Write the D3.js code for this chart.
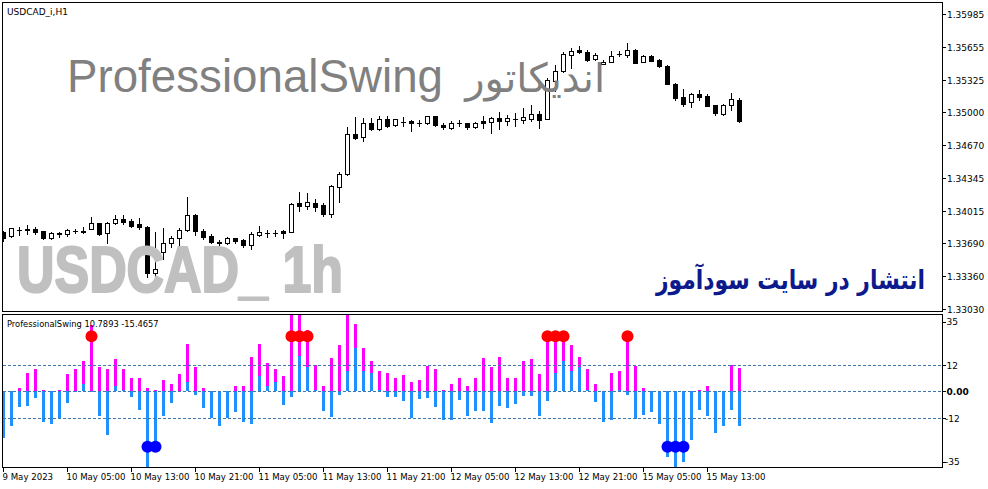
<!DOCTYPE html>
<html><head><meta charset="utf-8">
<script src="https://cdn.jsdelivr.net/npm/d3@7/dist/d3.min.js"></script>
<style>body{margin:0;background:#fff}svg{display:block}</style>
</head><body>
<svg id="c" width="988" height="489"></svg>
<script>
// ---------------- DATA ----------------
const symbolTitle = "USDCAD_i,H1";
const indicatorTitle = "ProfessionalSwing 10.7893 -15.4657";

const open = [
1.33803,1.33760,1.33820,1.33827,1.33827,1.33807,1.33743,1.33787,1.33780,1.33810,
1.33813,1.33830,1.33888,1.33787,1.33894,1.33928,1.33911,1.33878,1.33854,1.33387,
1.33603,1.33693,1.33737,1.33820,1.33971,1.33813,1.33760,1.33697,1.33687,1.33737,
1.33720,1.33670,1.33773,1.33793,1.33795,1.33807,1.33803,1.34088,1.34064,1.34088,
1.34068,1.33984,1.34254,1.34379,1.34782,1.34749,1.34890,1.34829,1.34930,1.34873,
1.34903,1.34916,1.34893,1.34890,1.34963,1.34876,1.34839,1.34893,1.34890,1.34850,
1.34913,1.34906,1.34943,1.34918,1.34933,1.34926,1.34936,1.34983,1.34936,1.35316,
1.35411,1.35571,1.35627,1.35604,1.35537,1.35484,1.35504,1.35584,1.35571,1.35627,
1.35504,1.35561,1.35521,1.35461,1.35288,1.35150,1.35103,1.35183,1.35160,1.35070,
1.34986,1.35070,1.35126];
const high = [
1.33815,1.33845,1.33854,1.33871,1.33854,1.33813,1.33803,1.33803,1.33830,1.33830,
1.33854,1.33954,1.33894,1.33904,1.33971,1.33968,1.33928,1.33941,1.33861,1.33800,
1.33837,1.33760,1.33837,1.34154,1.33981,1.33830,1.33777,1.33720,1.33747,1.33740,
1.33727,1.33803,1.33861,1.33820,1.33820,1.33820,1.34088,1.34204,1.34194,1.34128,
1.34088,1.34271,1.34399,1.34856,1.34956,1.34940,1.34940,1.34966,1.34966,1.34935,
1.34956,1.34920,1.34923,1.34968,1.34968,1.34896,1.34916,1.34923,1.34896,1.34903,
1.34966,1.34950,1.35008,1.34973,1.34993,1.35043,1.35076,1.35016,1.35343,1.35477,
1.35604,1.35644,1.35661,1.35621,1.35594,1.35527,1.35611,1.35611,1.35694,1.35637,
1.35577,1.35577,1.35534,1.35477,1.35293,1.35233,1.35193,1.35226,1.35183,1.35076,
1.35083,1.35193,1.35143];
const low = [
1.33713,1.33753,1.33770,1.33777,1.33777,1.33733,1.33730,1.33750,1.33763,1.33787,
1.33793,1.33827,1.33773,1.33687,1.33878,1.33881,1.33848,1.33830,1.33350,1.33350,
1.33527,1.33653,1.33670,1.33813,1.33770,1.33727,1.33687,1.33670,1.33680,1.33687,
1.33647,1.33627,1.33760,1.33753,1.33763,1.33743,1.33800,1.34014,1.34034,1.34014,
1.33964,1.33948,1.34104,1.34371,1.34737,1.34715,1.34824,1.34824,1.34850,1.34868,
1.34865,1.34815,1.34865,1.34885,1.34865,1.34829,1.34832,1.34862,1.34829,1.34839,
1.34839,1.34795,1.34837,1.34873,1.34862,1.34898,1.34916,1.34842,1.34933,1.35210,
1.35406,1.35444,1.35594,1.35517,1.35521,1.35481,1.35501,1.35567,1.35554,1.35491,
1.35501,1.35511,1.35454,1.35280,1.35126,1.35066,1.35053,1.35126,1.35060,1.34970,
1.34976,1.35026,1.34906];
const close = [
1.33743,1.33837,1.33817,1.33824,1.33800,1.33743,1.33790,1.33780,1.33820,1.33807,
1.33800,1.33888,1.33780,1.33888,1.33928,1.33898,1.33861,1.33854,1.33387,1.33427,
1.33693,1.33737,1.33820,1.33971,1.33813,1.33753,1.33703,1.33690,1.33743,1.33713,
1.33670,1.33780,1.33797,1.33795,1.33793,1.33793,1.34078,1.34061,1.34101,1.34054,
1.33984,1.34261,1.34382,1.34782,1.34745,1.34890,1.34829,1.34930,1.34865,1.34930,
1.34900,1.34890,1.34890,1.34963,1.34870,1.34850,1.34890,1.34890,1.34850,1.34896,
1.34896,1.34940,1.34913,1.34943,1.34938,1.34953,1.34983,1.34926,1.35326,1.35411,
1.35584,1.35617,1.35601,1.35527,1.35577,1.35504,1.35567,1.35581,1.35627,1.35494,
1.35561,1.35517,1.35461,1.35283,1.35143,1.35086,1.35183,1.35153,1.35066,1.34993,
1.35070,1.35136,1.34910];

// indicator histogram: magenta (upper) and dodger blue (lower)
const upper = [
0,0,1.7,8.3,10.0,0.9,0,0.5,7.9,10.4,
13.6,29.9,10.9,10.4,14.5,10.4,6.3,6.3,1.8,0.9,
5.4,3.6,7.7,21.3,11.3,1.4,0,0,0,2.7,
2.7,15.4,21.3,12.8,10.4,6.8,37,37,28,11.8,
2.7,15.1,21.0,37,30.4,19.5,14.0,9.5,8.6,5.9,
7.3,4.1,5.4,11.6,10.4,0.5,3.6,6.3,2.7,5.9,
15.0,10.9,15.4,6.3,6.3,13.6,14.5,7.7,26,25.5,
25.5,21.0,15.4,10.4,3.2,0,8.2,9.5,26,11.6,
1.8,0,0,0,0,0,0,0.5,2.3,0,
0,12.2,10.7893];
const lower = [
-21.1,-15.7,-7.1,-6.6,-3.0,-13.9,-14.8,-12.5,-5.3,0,
3.2,0,-10.9,-19.5,2.7,0.5,-2.7,-8.2,-36,-26.5,
-10.9,-5.0,0.4,4.2,-1.4,-7.3,-11.8,-15.4,-11.8,-9.1,
-13.6,-14.5,6.9,2.3,4.2,-5.9,-2.6,16.0,10.9,0.8,
-8.9,-11.6,-1.7,9.1,19.6,9.1,8.2,0.8,-2.6,-2.3,
-4.4,-12.1,-3.5,-3.0,-7.1,-12.8,-12.8,-3.9,-11.2,-8.9,
-8.9,-14.4,-6.6,-7.6,-5.7,-2.1,-2.1,-11.2,-4.4,8.3,
13.6,9.5,10.9,0.8,-4.8,-13.9,-12.8,0.8,-1.7,-12.5,
-10.7,-9.4,-14.8,-29.8,-36,-32,-22.1,-8.5,-11.2,-18.9,
-15.7,-8.5,-15.4657];
const sellSignalBars = [11,36,37,38,68,69,70,78];   // red dots
const buySignalBars  = [18,19,83,84,85];            // blue dots
const signalLevel = 25;
const levels = [12,0,-12];

const priceTicks = [1.35985,1.35655,1.35325,1.35000,1.34670,1.34345,1.34015,1.33690,1.33360,1.33030];
const indTicks = [35,12,0,-12,-35];
const indTickLabels = ["35","12","0.00","-12","-35"];
const timeTickBars = [0,8,16,24,32,40,48,56,64,72,80,88];
const timeTickLabels = ["9 May 2023","10 May 05:00","10 May 13:00","10 May 21:00","11 May 05:00",
  "11 May 13:00","11 May 21:00","12 May 05:00","12 May 13:00","12 May 21:00","15 May 05:00","15 May 13:00"];

const watermark1a = "ProfessionalSwing";
const watermark1b = "اندیکاتور";
const watermark2 = "USDCAD_ 1h";
const watermark3 = "انتشار در سایت سودآموز";

// ---------------- DRAW ----------------
const svg = d3.select('#c');
const FONT = '"DejaVu Sans", Verdana, sans-serif';
svg.append('rect').attr('width',988).attr('height',489).attr('fill','#fff');

const x = d3.scaleLinear().domain([0,117.5]).range([3,943]);
const y = d3.scaleLinear().domain([1.33030,1.35985]).range([309,14]);
const yi = d3.scaleLinear().domain([-12,12]).range([418,365]);

const defs = svg.append('defs');
defs.append('clipPath').attr('id','cm').append('rect').attr('x',3).attr('y',3).attr('width',939).attr('height',308);
defs.append('clipPath').attr('id','ci').append('rect').attr('x',3).attr('y',315).attr('width',939).attr('height',152);

// main panel candles
const gm = svg.append('g').attr('clip-path','url(#cm)').attr('shape-rendering','crispEdges');
const idx = d3.range(open.length);
idx.forEach(k => {
  const cx = Math.round(x(k));
  const o = open[k], c = close[k];
  gm.append('line').attr('x1',cx+0.5).attr('x2',cx+0.5)
    .attr('y1',Math.round(y(high[k]))).attr('y2',Math.round(y(low[k]))+1)
    .attr('stroke','#000');
  const t = Math.round(y(Math.max(o,c))), b = Math.round(y(Math.min(o,c)));
  if (b - t < 1) {
    gm.append('line').attr('x1',cx-2).attr('x2',cx+3).attr('y1',t+0.5).attr('y2',t+0.5).attr('stroke','#000');
  } else {
    gm.append('rect').attr('x',cx-1.5).attr('y',t+0.5).attr('width',4).attr('height',b-t)
      .attr('fill', c < o ? '#000' : '#fff').attr('stroke','#000');
  }
});

// watermarks (drawn above candles)
const gt = svg.append('g').attr('clip-path','url(#cm)');
gt.append('text').attr('x',67).attr('y',92).attr('font-family','"Liberation Sans", Arial, sans-serif')
  .attr('font-size',46).attr('fill','#808080')
  .attr('textLength',376).attr('lengthAdjust','spacingAndGlyphs').text(watermark1a);
gt.append('text').attr('x',605).attr('y',92).attr('text-anchor','end').attr('font-family','"DejaVu Sans", sans-serif')
  .attr('font-size',40).attr('fill','#808080').text(watermark1b);
gt.append('text').attr('x',17).attr('y',292).attr('font-family','"Liberation Sans", Arial, sans-serif')
  .attr('font-weight','bold').attr('font-size',64).attr('fill','#c0c0c0')
  .attr('stroke','#c0c0c0').attr('stroke-width',2.2).attr('stroke-linejoin','round')
  .attr('textLength',326).attr('lengthAdjust','spacingAndGlyphs').text(watermark2);
gt.append('g').attr('transform','translate(925,289) scale(0.81,1)')
  .append('text').attr('x',0).attr('y',0).attr('text-anchor','end').attr('font-family','"DejaVu Sans", sans-serif')
  .attr('font-weight','bold').attr('font-size',27).attr('fill','#0d1a8c').text(watermark3);

// indicator panel
const gi = svg.append('g').attr('clip-path','url(#ci)').attr('shape-rendering','crispEdges');
const y0 = Math.floor(yi(0));
function bar(v, color, k){
  const cx = Math.round(x(k));
  const yv = Math.round(yi(v));
  const top = Math.min(yv, y0), h = Math.abs(yv - y0);
  if (h < 1) return;
  gi.append('rect').attr('x',cx-1).attr('width',3).attr('y',top).attr('height',h).attr('fill',color);
}
idx.forEach(k => { bar(upper[k], '#ff00ff', k); });
idx.forEach(k => { bar(lower[k], '#1e90ff', k); });
levels.forEach(v => {
  const yy = Math.floor(yi(v)) + 0.5;
  gi.append('line').attr('x1',3).attr('x2',942).attr('y1',yy).attr('y2',yy)
    .attr('stroke','#3f78ad').attr('stroke-dasharray','3,2');
});
const gd = svg.append('g').attr('clip-path','url(#ci)');
sellSignalBars.forEach(k => {
  gd.append('circle').attr('cx',Math.round(x(k))+0.5).attr('cy',yi(signalLevel)).attr('r',6).attr('fill','#ff0000');
});
buySignalBars.forEach(k => {
  gd.append('circle').attr('cx',Math.round(x(k))+0.5).attr('cy',yi(-signalLevel)).attr('r',6).attr('fill','#0000ff');
});

// frames
svg.append('rect').attr('x',2.5).attr('y',2.5).attr('width',940).attr('height',309)
  .attr('fill','none').attr('stroke','#000').attr('shape-rendering','crispEdges');
svg.append('rect').attr('x',2.5).attr('y',314.5).attr('width',940).attr('height',153)
  .attr('fill','none').attr('stroke','#000').attr('shape-rendering','crispEdges');

// titles
svg.append('text').attr('x',7).attr('y',14.5).attr('font-family',FONT).attr('font-size',9).attr('fill','#000').text(symbolTitle);
svg.append('text').attr('x',7).attr('y',327).attr('font-family',FONT).attr('font-size',8.3).attr('fill','#000').text(indicatorTitle);

// price axis
const ga = svg.append('g');
priceTicks.forEach(v => {
  const yy = Math.round(y(v)) + 0.5;
  ga.append('line').attr('x1',943).attr('x2',946).attr('y1',yy).attr('y2',yy).attr('stroke','#000').attr('shape-rendering','crispEdges');
  ga.append('text').attr('x',947).attr('y',yy).attr('dy','0.36em').attr('font-family',FONT).attr('font-size',9)
    .attr('fill','#000').text(d3.format('.5f')(v));
});
indTicks.forEach((v,i) => {
  const yy = Math.max(322, Math.min(462, Math.floor(yi(v)) + 0.5));
  ga.append('line').attr('x1',943).attr('x2',946).attr('y1',yy).attr('y2',yy).attr('stroke','#000').attr('shape-rendering','crispEdges');
  ga.append('text').attr('x',v<0?945:946.5).attr('y',yy).attr('dy','0.36em').attr('font-family',FONT).attr('font-size',9)
    .attr('fill','#000').attr('font-weight', v===0 ? 'bold' : 'normal').text(indTickLabels[i]);
});

// time axis
timeTickBars.forEach((k,i) => {
  const xx = Math.round(x(k)) + 0.5;
  ga.append('line').attr('x1',xx).attr('x2',xx).attr('y1',467).attr('y2',472).attr('stroke','#000').attr('shape-rendering','crispEdges');
  ga.append('text').attr('x',xx-1).attr('y',480).attr('font-family',FONT).attr('font-size',8.6)
    .attr('fill','#000').text(timeTickLabels[i]);
});
</script>
</body></html>
